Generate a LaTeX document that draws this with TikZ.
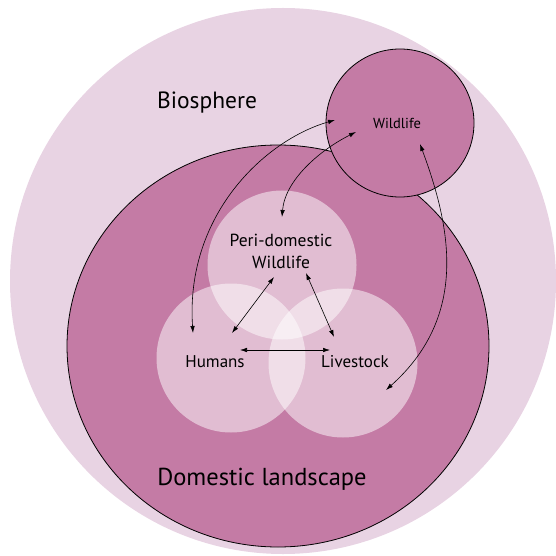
\documentclass[tikz,border=0pt]{standalone}
\usepackage{fontspec}
\setmainfont{PT Sans}
\usetikzlibrary{arrows.meta,shapes.geometric}
\definecolor{biolight}{HTML}{E8D3E3}
\definecolor{domdark}{HTML}{C47BA5}
\tikzset{
  zone/.style={circle,inner sep=0pt,minimum size=#1},
  host/.style={zone=149pt,fill=white,fill opacity=.5},
  link/.style={{Latex[length=7pt,width=4.5pt]}-{Latex[length=7pt,width=4.5pt]},line width=.6pt}
}
\begin{document}
\begin{tikzpicture}[x=1pt,y=1pt]
  \useasboundingbox (0,0) rectangle (556,555);
  \node[zone=546pt,fill=biolight] (bio) at (283,274) {};
  \node[ellipse,inner sep=0pt,minimum width=422pt,minimum height=402pt,
        draw,line width=.8pt,fill=domdark] (dom) at (278,209) {};
  \node[zone=148pt,draw,line width=.8pt,fill=domdark] (wild) at (400,432) {};
  \node[host] (peri) at (282,290) {};
  \node[host] (hum) at (231,197) {};
  \node[host] (live) at (343,192) {};
  \draw
    (207,452) node[font=\fontsize{23.5}{28}\selectfont] (biotxt){Biosphere}
    (262,76) node[font=\fontsize{24.5}{29}\selectfont] (domtxt){Domestic landscape}
    (397,432) node[font=\fontsize{14.5}{17}\selectfont] (wildtxt){Wildlife}
    (281,304) node[font=\fontsize{17.5}{22}\selectfont,align=center] (peritxt){Peri-domestic\\Wildlife}
    (215,193) node[font=\fontsize{17}{20}\selectfont] (humtxt){Humans}
    (355,193) node[font=\fontsize{17}{20}\selectfont] (livetxt){Livestock};
  \coordinate (w1) at (335,435);
  \coordinate (w2) at (356,423);
  \coordinate (w3) at (420,411);
  \coordinate (p1) at (282,338);
  \coordinate (p2) at (274,278);
  \coordinate (p3) at (306,282);
  \coordinate (h1) at (193,222);
  \coordinate (h2) at (232,222);
  \coordinate (h3) at (240,205);
  \coordinate (l1) at (386,165);
  \coordinate (l2) at (334,218);
  \coordinate (l3) at (330,205);
  \begin{scope}[link]
    \draw (w1) .. controls (265,415) and (185,340) .. (h1);
    \draw (w2) .. controls (320,405) and (285,375) .. (p1);
    \draw (w3) .. controls (450,330) and (470,240) .. (l1);
    \draw (p2) to (h2);
    \draw (p3) to (l2);
    \draw (h3) to (l3);
  \end{scope}
\end{tikzpicture}
\end{document}
